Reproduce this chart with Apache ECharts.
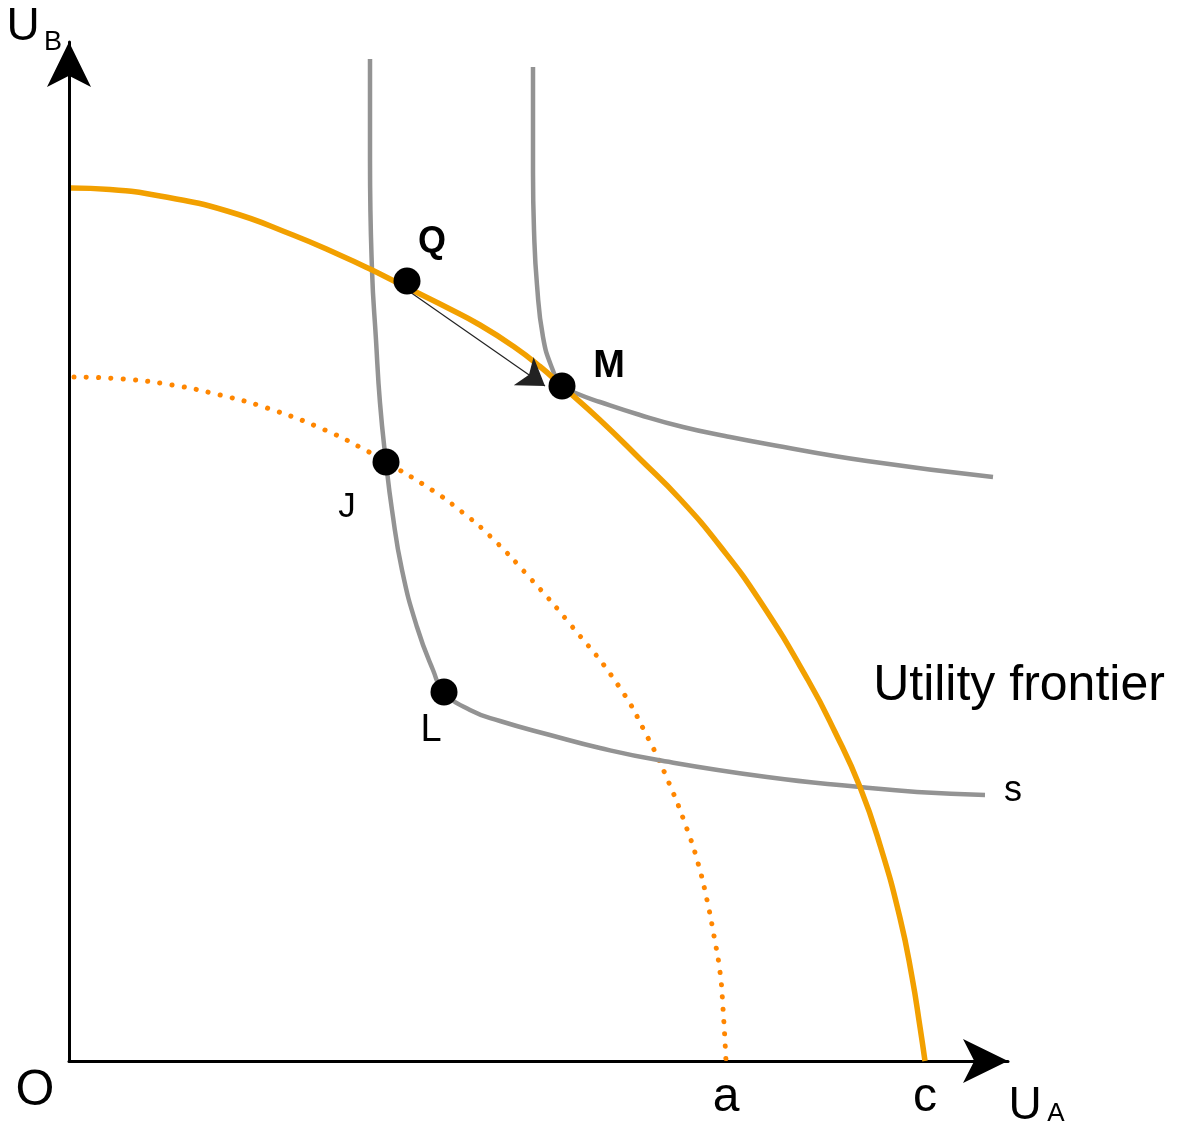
<!DOCTYPE html>
<html>
<head>
<meta charset="utf-8">
<title>Utility frontier</title>
<script src="https://cdn.jsdelivr.net/npm/echarts@6/dist/echarts.min.js"></script>
<style>
  html, body { margin: 0; padding: 0; background: #fff; }
  #chart { width: 1184px; height: 1131px; }
</style>
</head>
<body>
<div id="chart"></div>
<script>
// 数据 (U_A, U_B)
var frontier = [[2, 873], [41, 871.5], [91, 865], [158, 850], [224, 826], [274, 804.5], [301, 792],
  [324, 780.5], [351, 767], [378, 753.5], [411, 736], [444, 715], [471, 694.5], [493, 675], [531, 641],
  [571, 602], [611, 562], [651, 515], [691, 460], [739, 381], [766, 329], [791, 274], [811, 216],
  [831, 143], [843, 84], [851, 34], [856, 0]];
var oldFrontier = [[5, 684], [54, 682], [103, 676], [151, 666], [198, 653], [256, 631], [300, 609],
  [317, 599], [363, 571], [393, 549], [421, 525], [461, 483], [501, 437], [549, 376], [579, 323],
  [600, 278], [618, 232], [629, 198], [638, 161], [645, 125], [651, 89], [654, 53], [657, 0]];
var curveS = [[301, 1002], [301, 901], [303, 791], [307, 721], [311, 658], [317, 599], [323, 551],
  [333, 491], [348, 434], [364, 391], [375, 369], [401, 351], [431, 340], [481, 326], [531, 313],
  [589, 301], [698, 284], [791, 274], [848, 269], [916, 266]];
var curveHigh = [[464, 994], [464, 888], [465, 831], [468, 776], [474, 724], [483, 693], [493, 675],
  [509, 667], [531, 659], [571, 646], [614, 634], [656, 625], [698, 617], [798, 600], [924, 584]];
var pointNames = ['Q', 'M', 'J', 'L'];
var pointValues = [[338, 780], [493, 675], [317, 599], [375, 369]];
var moveFrom = [341, 769];
var moveTo = [476, 675];
var interceptValues = [657, 856];
var interceptNames = ['a', 'c'];

var font = 'Liberation Sans, Arial, sans-serif';

// 各点标签样式
var pointLabels = {
  Q: { offset: [25, -39], fontSize: 36, fontWeight: 'bold' },
  M: { offset: [47, -19], fontSize: 38, fontWeight: 'bold' },
  J: { offset: [-39, 45], fontSize: 35, fontWeight: 'normal' },
  L: { offset: [-13, 39], fontSize: 38, fontWeight: 'normal' }
};

function text(str, x, y, size) {
  return {
    type: 'text', x: x, y: y, silent: true,
    style: {
      text: str, fill: '#000', fontSize: size, fontFamily: font,
      textAlign: 'center', textVerticalAlign: 'middle',
      align: 'center', verticalAlign: 'middle'
    }
  };
}

var myChart = echarts.init(document.getElementById('chart'));
myChart.setOption({
  backgroundColor: '#fff',
  animation: false,
  grid: { left: 69, top: 42, width: 939, height: 1019, containLabel: false, outerBoundsMode: 'none' },
  xAxis: {
    type: 'value', min: 0, max: 939,
    axisLine: { show: true, symbol: ['none', 'arrow'], symbolSize: [33, 45], lineStyle: { color: '#000', width: 3 } },
    axisTick: { show: false },
    splitLine: { show: false },
    axisLabel: {
      show: true, customValues: interceptValues, margin: 13,
      fontSize: 48, fontFamily: font, color: '#000',
      formatter: function (v) { return interceptNames[interceptValues.indexOf(v)]; }
    }
  },
  yAxis: {
    type: 'value', min: 0, max: 1019,
    axisLine: { show: true, symbol: ['none', 'arrow'], symbolSize: [33, 45], lineStyle: { color: '#000', width: 3 } },
    axisTick: { show: false },
    splitLine: { show: false },
    axisLabel: { show: false }
  },
  graphic: [
    text('U', 23, 27, 46), text('B', 53, 43, 27),
    text('U', 1025, 1106, 46), text('A', 1056, 1114, 26),
    text('O', 35, 1091, 50),
    text('Utility frontier', 1019, 686, 50),
    text('s', 1013, 791, 36)
  ],
  series: [
    {
      name: 'old', type: 'line', data: oldFrontier, smooth: 0.5, showSymbol: false, clip: false,
      lineStyle: { color: '#ff8600', width: 5, type: [0.1, 12.2], cap: 'round' }, z: 2
    },
    {
      name: 's', type: 'line', data: curveS, smooth: 0.5, showSymbol: false, clip: false,
      lineStyle: { color: '#939393', width: 4.5 }, z: 3
    },
    {
      name: 'high', type: 'line', data: curveHigh, smooth: 0.5, showSymbol: false, clip: false,
      lineStyle: { color: '#939393', width: 4.5 }, z: 3
    },
    {
      name: 'frontier', type: 'line', data: frontier, smooth: 0.5, showSymbol: false, clip: false,
      lineStyle: { color: '#f2a000', width: 5.5 }, z: 4
    },
    {
      name: 'move', type: 'lines', coordinateSystem: 'cartesian2d', z: 5,
      symbol: ['none', 'arrow'], symbolSize: [21, 26],
      lineStyle: { color: '#222', width: 1.2, opacity: 1, curveness: 0 },
      data: [{ coords: [moveFrom, moveTo] }]
    },
    {
      name: 'points', type: 'scatter', symbol: 'circle', symbolSize: 27, clip: false, z: 6,
      itemStyle: { color: '#000', opacity: 1 },
      data: pointValues.map(function (v, i) {
        var s = pointLabels[pointNames[i]];
        return {
          name: pointNames[i], value: v,
          label: {
            show: true, position: 'inside', formatter: '{b}', color: '#000',
            offset: s.offset, fontSize: s.fontSize, fontWeight: s.fontWeight, fontFamily: font
          }
        };
      })
    }
  ]
});
</script>
</body>
</html>
